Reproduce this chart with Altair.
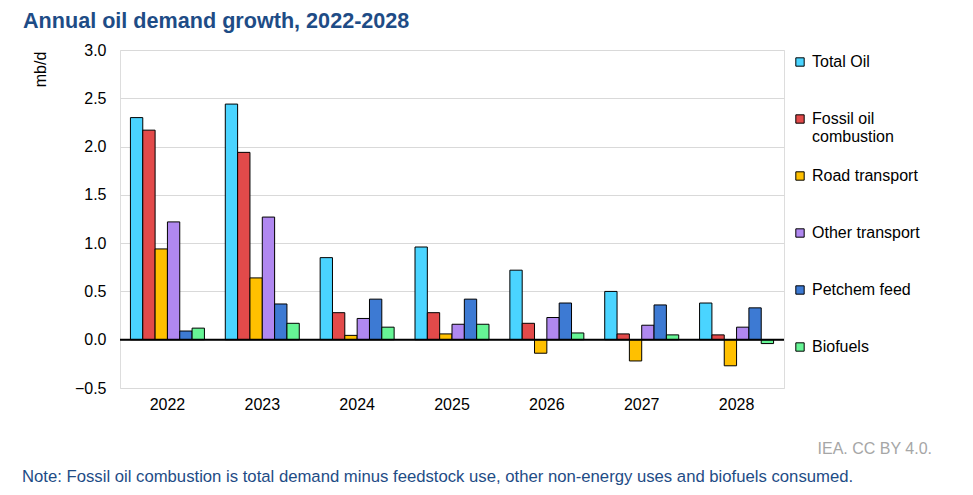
import altair as alt
import pandas as pd

years = ["2022", "2023", "2024", "2025", "2026", "2027", "2028"]
series = ["Total Oil", "Fossil oil combustion", "Road transport",
          "Other transport", "Petchem feed", "Biofuels"]
colors = ["#4AD4FF", "#E24A4A", "#FFC000", "#B088F0", "#3D7AD3", "#66F595"]

total_oil = [2.30, 2.44, 0.85, 0.96, 0.72, 0.50, 0.38]
fossil_comb = [2.17, 1.94, 0.28, 0.28, 0.17, 0.06, 0.05]
road = [0.94, 0.64, 0.045, 0.06, -0.14, -0.22, -0.27]
other_tr = [1.22, 1.27, 0.22, 0.16, 0.23, 0.15, 0.13]
petchem = [0.09, 0.37, 0.42, 0.42, 0.38, 0.36, 0.33]
biofuels = [0.12, 0.17, 0.13, 0.16, 0.07, 0.05, -0.04]

y_ticks = [-0.5, 0.0, 0.5, 1.0, 1.5, 2.0, 2.5, 3.0]

title_text = "Annual oil demand growth, 2022-2028"
credit_text = "IEA. CC BY 4.0."
note_text = "Note: Fossil oil combustion is total demand minus feedstock use, other non-energy uses and biofuels consumed."

rows = []
for s, vals in zip(series, [total_oil, fossil_comb, road, other_tr, petchem, biofuels]):
    for yr, v in zip(years, vals):
        rows.append({"year": yr, "series": s, "value": v})
df = pd.DataFrame(rows)

FONT = "Liberation Sans"
W, H = 664, 338

bars = alt.Chart(df).mark_bar(stroke="black", strokeWidth=1).encode(
    x=alt.X("year:N", sort=years,
            scale=alt.Scale(paddingInner=0.22, paddingOuter=0.11),
            axis=alt.Axis(title=None, labelAngle=0, labelFontSize=16, labelFont=FONT,
                          labelColor="#000000", labelPadding=8, domain=False, ticks=False,
                          grid=False)),
    xOffset=alt.XOffset("series:N", sort=series,
                        scale=alt.Scale(paddingInner=0, paddingOuter=0)),
    y=alt.Y("value:Q",
            scale=alt.Scale(domain=[-0.5, 3.0], nice=False, zero=False),
            axis=alt.Axis(values=y_ticks, format=".1f", title="mb/d",
                          titleFont=FONT, titleFontSize=16, titleFontWeight="normal",
                          titleColor="#000000", titleX=-80, titleY=19,
                          titleAlign="center", titleBaseline="middle", titleAngle=-90,
                          labelFont=FONT, labelFontSize=16, labelColor="#000000",
                          labelPadding=14, domain=False, ticks=False,
                          gridColor="#D9D9D9", gridWidth=1)),
    color=alt.Color("series:N", sort=series,
                    scale=alt.Scale(domain=series, range=colors),
                    legend=alt.Legend(title=None, orient="none", legendX=672, legendY=2,
                                      symbolType="square", symbolSize=70,
                                      symbolStrokeColor="black", symbolStrokeWidth=1,
                                      labelFont=FONT, labelFontSize=16, labelColor="#000000",
                                      labelOffset=4, rowPadding=21, clipHeight=20,
                                      gridAlign="all", labelLimit=200,
                                      labelExpr="datum.label == 'Fossil oil combustion' ? ['Fossil oil', 'combustion'] : datum.label")),
)

zero = alt.Chart(pd.DataFrame({"z": [0.0]})).mark_rule(color="black", strokeWidth=2).encode(
    y="z:Q"
)

title = alt.Chart(pd.DataFrame({"t": [title_text]})).mark_text(
    align="left", baseline="alphabetic", font=FONT, fontSize=21.6, fontWeight="bold",
    color="#1E4C86"
).encode(x=alt.value(-97), y=alt.value(-22), text="t:N")

credit = alt.Chart(pd.DataFrame({"t": [credit_text]})).mark_text(
    align="right", baseline="alphabetic", font=FONT, fontSize=16, color="#A6A6A6"
).encode(x=alt.value(812), y=alt.value(404), text="t:N")

note = alt.Chart(pd.DataFrame({"t": [note_text]})).mark_text(
    align="left", baseline="alphabetic", font=FONT, fontSize=16.7, color="#1E4C86"
).encode(x=alt.value(-98), y=alt.value(432), text="t:N")

chart = alt.layer(bars, zero, title, credit, note).properties(
    width=W, height=H,
    autosize=alt.AutoSizeParams(type="none"),
    padding={"left": 112, "top": 42, "right": 957 - 112 - W, "bottom": 479 - 42 - H},
).configure_view(stroke=None).configure(background="white")

chart.save("out.html", embed_options={"renderer": "svg", "actions": False})
